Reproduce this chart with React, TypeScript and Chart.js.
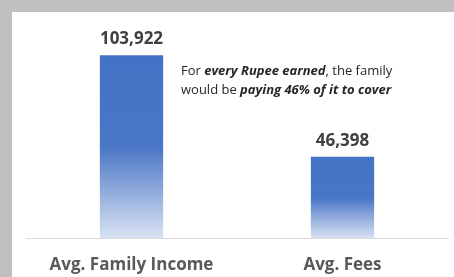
import React, { useEffect, useRef } from "react";
import { Chart, registerables } from "chart.js";

Chart.register(...registerables);

const categories = ["Avg. Family Income", "Avg. Fees"];
const values = [103922, 46398];
const noteLines: [string, boolean][][] = [
  [["For ", false], ["every Rupee earned", true], [", the family", false]],
  [["would be ", false], ["paying 46% of it to cover", true]],
];

const FONT = "'Open Sans', sans-serif";

const frame = {
  id: "frame",
  beforeDraw(chart: any) {
    const ctx = chart.ctx;
    ctx.save();
    ctx.fillStyle = "#c0c0c0";
    ctx.fillRect(0, 0, chart.width, chart.height);
    ctx.fillStyle = "#ffffff";
    ctx.fillRect(12, 12, chart.width - 12, chart.height - 12);
    ctx.restore();
  },
};

const valueLabels = {
  id: "valueLabels",
  afterDatasetsDraw(chart: any) {
    const ctx = chart.ctx;
    const meta = chart.getDatasetMeta(0);
    ctx.save();
    ctx.font = `bold 17px ${FONT}`;
    ctx.fillStyle = "#404040";
    ctx.textAlign = "center";
    ctx.textBaseline = "middle";
    meta.data.forEach((bar: any, i: number) => {
      ctx.fillText(values[i].toLocaleString("en-US"), bar.x, bar.y - 16);
    });
    ctx.restore();
  },
};

const note = {
  id: "note",
  afterDraw(chart: any) {
    const ctx = chart.ctx;
    ctx.save();
    ctx.fillStyle = "#262626";
    ctx.textBaseline = "middle";
    ctx.textAlign = "left";
    const x0 = 181;
    const ys = [71, 90];
    noteLines.forEach((line, li) => {
      let x = x0;
      line.forEach(([t, bi]) => {
        ctx.font = bi ? `italic bold 13px ${FONT}` : `13px ${FONT}`;
        ctx.fillText(t, x, ys[li]);
        x += ctx.measureText(t).width;
      });
    });
    ctx.restore();
  },
};

export default function App() {
  const ref = useRef<HTMLCanvasElement>(null);
  useEffect(() => {
    const chart = new Chart(ref.current!, {
      type: "bar",
      data: {
        labels: categories,
        datasets: [
          {
            data: values,
            backgroundColor: (c: any) => {
              const ch = c.chart;
              const y = ch.scales?.y;
              if (!y || !ch.chartArea) return "#4472C4";
              const top = y.getPixelForValue(values[c.dataIndex]);
              const bottom = y.getPixelForValue(0);
              const g = ch.ctx.createLinearGradient(0, top, 0, bottom);
              g.addColorStop(0, "#4472C4");
              g.addColorStop(0.5, "#4a76c6");
              g.addColorStop(1, "#dae3f3");
              return g;
            },
            barPercentage: 0.3,
            categoryPercentage: 1,
          },
        ],
      },
      options: {
        animation: false,
        responsive: false,
        maintainAspectRatio: false,
        layout: { padding: { left: 26, right: 6, top: 27, bottom: -14 } },
        plugins: { legend: { display: false }, tooltip: { enabled: false } },
        scales: {
          x: {
            grid: { display: false, drawTicks: false },
            border: { display: true, color: "#d9d9d9", width: 1 },
            ticks: {
              color: "#595959",
              font: { family: FONT, size: 17, weight: "bold" },
              padding: 16,
            },
          },
          y: { display: false, min: 0, max: 120000 },
        },
      },
      plugins: [frame, valueLabels, note],
    });
    return () => chart.destroy();
  }, []);
  return (
    <div style={{ position: "fixed", left: 0, top: 0, width: 454, height: 277 }}>
      <canvas ref={ref} width={454} height={277} style={{ display: "block" }} />
    </div>
  );
}
